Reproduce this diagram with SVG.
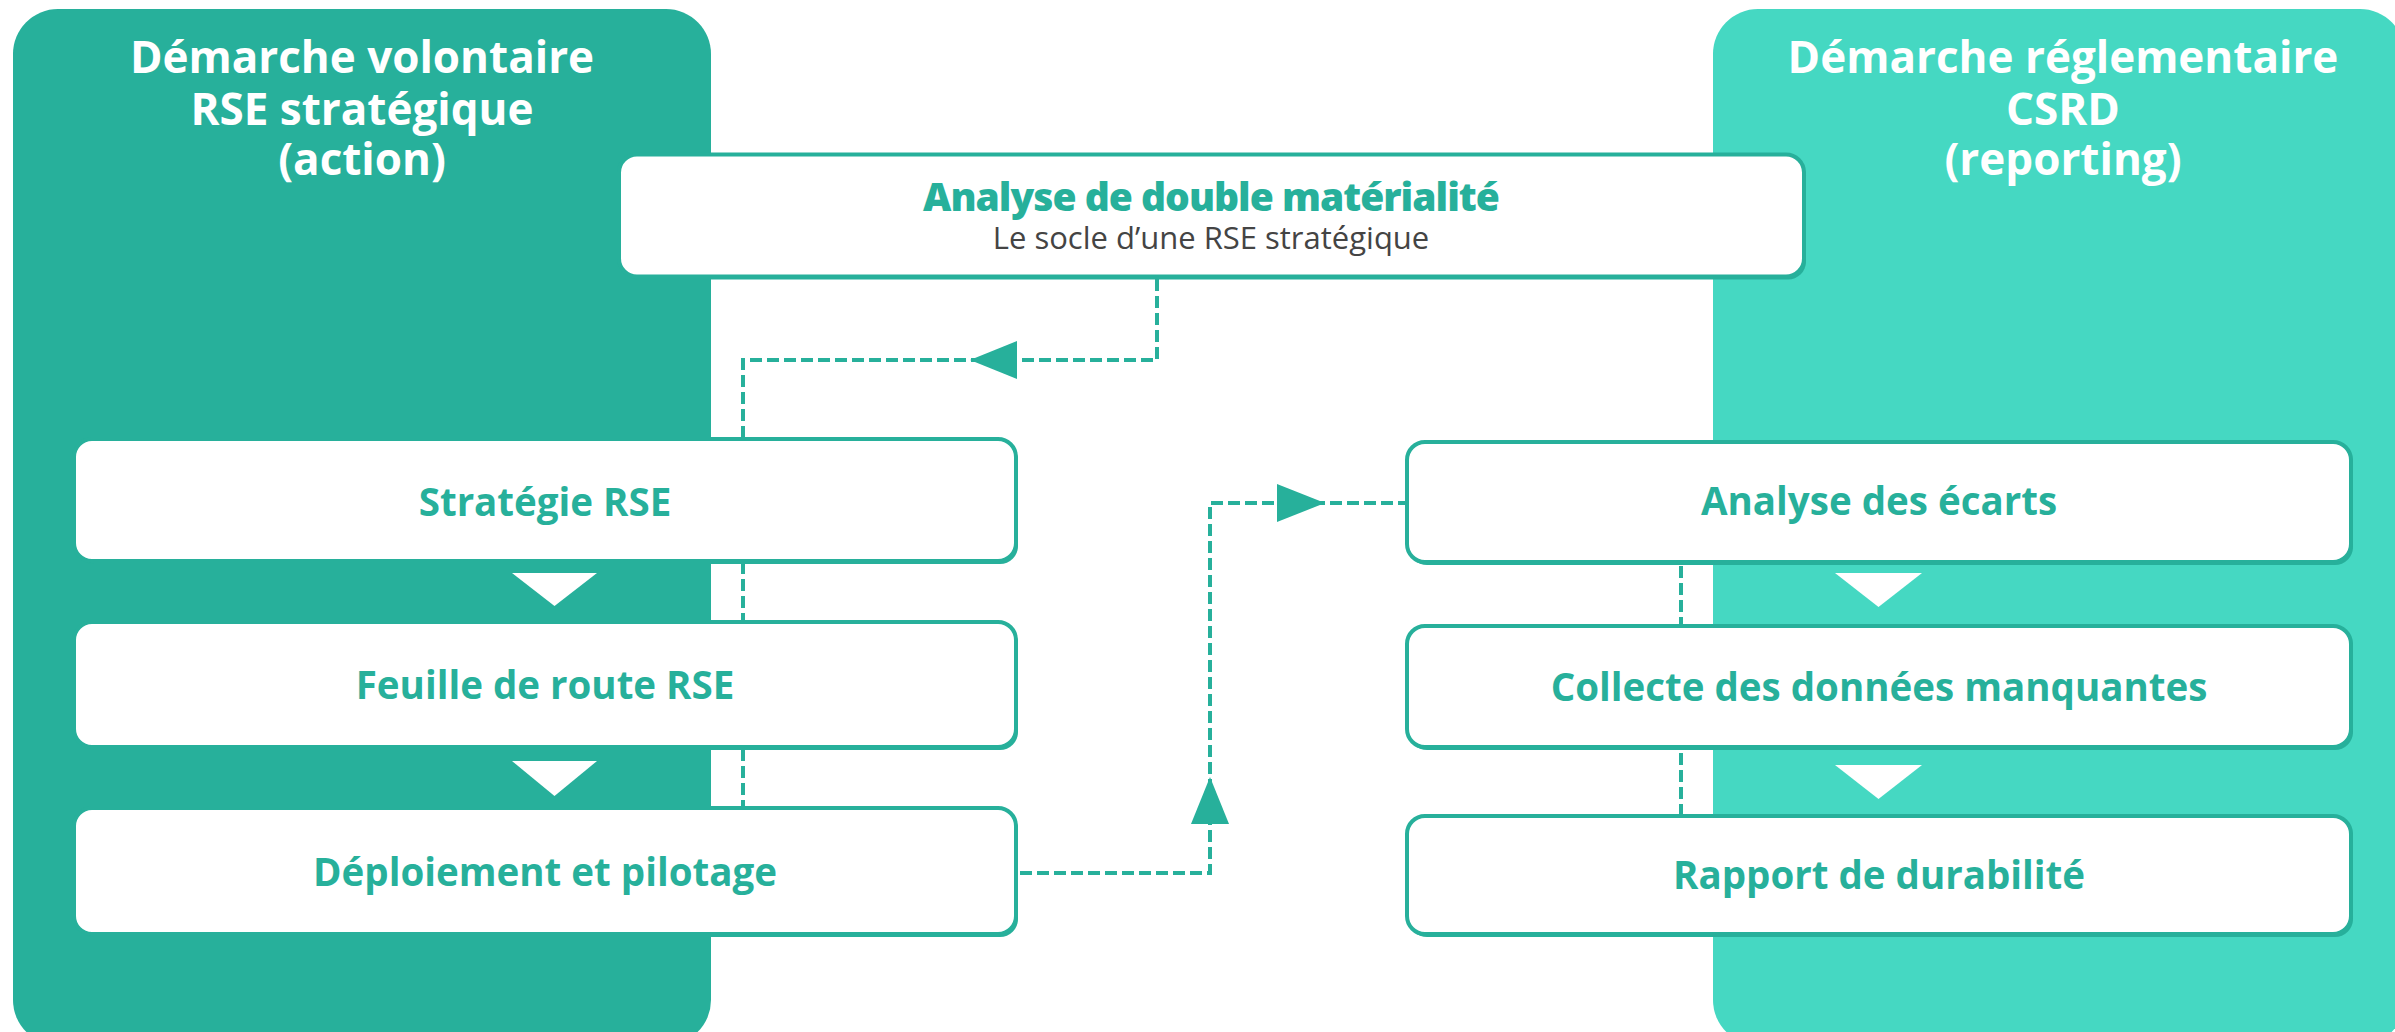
<svg xmlns="http://www.w3.org/2000/svg" width="2395" height="1032" viewBox="0 0 2395 1032">
<style>
.panelL{fill:#27B09B}
.panelR{fill:#45D8C2}
.head{font-family:"Open Sans","DejaVu Sans",sans-serif;font-weight:700;font-size:44px;fill:#ffffff;text-anchor:middle}
.box{fill:#ffffff;stroke:#27B09B;stroke-width:4}
.shadow{fill:#27B09B}
.lbl{font-family:"Open Sans","DejaVu Sans",sans-serif;font-weight:700;font-size:38.5px;fill:#27B09B;text-anchor:middle}
.title{font-family:"Open Sans","DejaVu Sans",sans-serif;font-weight:800;font-size:39px;letter-spacing:-1px;fill:#27B09B;text-anchor:middle}
.sub{font-family:"Open Sans","DejaVu Sans",sans-serif;font-weight:400;font-size:31px;fill:#444444;text-anchor:middle}
.dash{fill:none;stroke:#27B09B;stroke-width:4;stroke-dasharray:12 5}
.ah{fill:#27B09B}
.flow{fill:#ffffff}
</style>

<g id="panel-volontaire">
<rect class="panelL" x="13" y="9" width="698" height="1036" rx="45"/>
<text class="head" x="362" y="73">Démarche volontaire</text>
<text class="head" x="362" y="125">RSE stratégique</text>
<text class="head" x="362" y="175">(action)</text>
</g>

<g id="panel-reglementaire">
<rect class="panelR" x="1713" y="9" width="692" height="1036" rx="45"/>
<text class="head" x="2063" y="73">Démarche réglementaire</text>
<text class="head" x="2063" y="125">CSRD</text>
<text class="head" x="2063" y="175">(reporting)</text>
</g>

<g id="connectors">
<path class="dash" d="M1157,279 V360 H743 V806"/>
<polygon class="ah" points="970,360 1017,341 1017,379"/>
<path class="dash" d="M1020,873 H1210 V503 H1405"/>
<polygon class="ah" points="1210,777 1191,824 1229,824"/>
<polygon class="ah" points="1325,503 1277,484 1277,522"/>
<path class="dash" d="M1681,566 V814"/>
<polygon class="flow" points="512,573 597,573 554.5,606"/>
<polygon class="flow" points="512,761 597,761 554.5,796"/>
<polygon class="flow" points="1835,573 1922,573 1878.5,607"/>
<polygon class="flow" points="1835,765 1922,765 1878.5,799"/>
</g>

<g id="node-double-materialite">
<rect class="shadow" x="621" y="157.5" width="1185" height="122" rx="18"/>
<rect class="box" x="619" y="154.5" width="1185" height="122" rx="18"/>
<text class="title" x="1211" y="211">Analyse de double matérialité</text>
<text class="sub" x="1211" y="249">Le socle d’une RSE stratégique</text>
</g>

<g id="node-strategie">
<rect class="shadow" x="76" y="442" width="942" height="122" rx="18"/>
<rect class="box" x="74" y="439" width="942" height="122" rx="18"/>
<text class="lbl" x="545" y="516">Stratégie RSE</text>
</g>

<g id="node-feuille">
<rect class="shadow" x="76" y="625" width="942" height="125" rx="18"/>
<rect class="box" x="74" y="622" width="942" height="125" rx="18"/>
<text class="lbl" x="545" y="699">Feuille de route RSE</text>
</g>

<g id="node-deploiement">
<rect class="shadow" x="76" y="811" width="942" height="126" rx="18"/>
<rect class="box" x="74" y="808" width="942" height="126" rx="18"/>
<text class="lbl" x="545" y="886">Déploiement et pilotage</text>
</g>

<g id="node-ecarts">
<rect class="shadow" x="1409" y="445" width="944" height="120" rx="18"/>
<rect class="box" x="1407" y="442" width="944" height="120" rx="18"/>
<text class="lbl" x="1879" y="515">Analyse des écarts</text>
</g>

<g id="node-collecte">
<rect class="shadow" x="1409" y="629" width="944" height="121" rx="18"/>
<rect class="box" x="1407" y="626" width="944" height="121" rx="18"/>
<text class="lbl" x="1879" y="701">Collecte des données manquantes</text>
</g>

<g id="node-rapport">
<rect class="shadow" x="1409" y="819" width="944" height="118" rx="18"/>
<rect class="box" x="1407" y="816" width="944" height="118" rx="18"/>
<text class="lbl" x="1879" y="889">Rapport de durabilité</text>
</g>
</svg>
